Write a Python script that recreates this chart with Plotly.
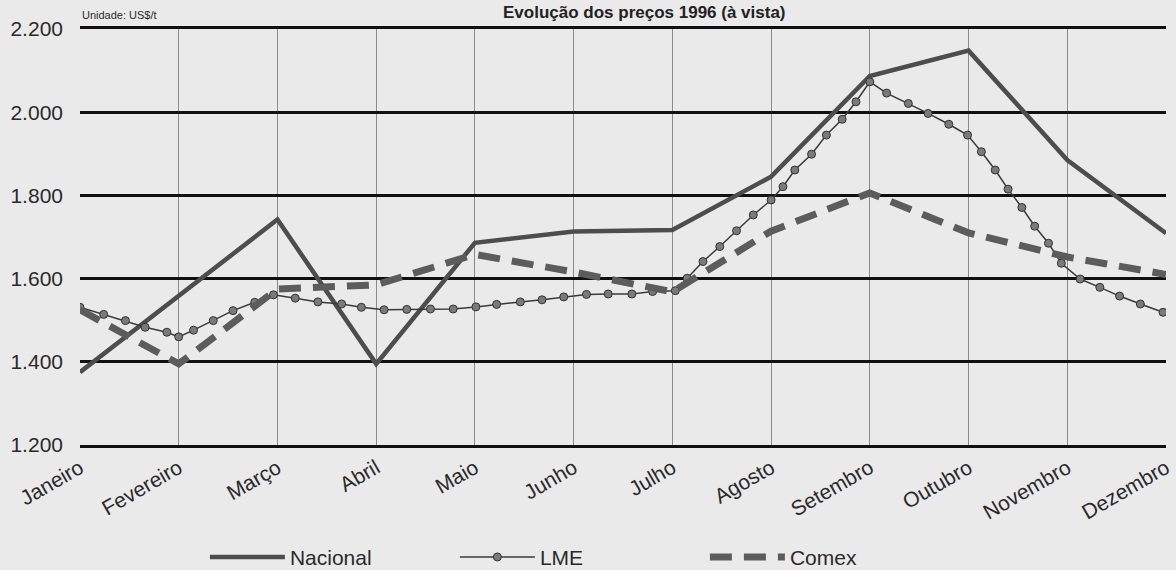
import plotly.graph_objects as go

# ---- data ----
months = ["Janeiro", "Fevereiro", "Março", "Abril", "Maio", "Junho", "Julho",
          "Agosto", "Setembro", "Outubro", "Novembro", "Dezembro"]
month_pos = list(range(12))

nacional = [1375, 1560, 1742, 1395, 1686, 1713, 1717, 1845, 2087, 2148, 1885, 1709]
comex = [1525, 1395, 1575, 1585, 1658, 1616, 1568, 1714, 1806, 1710, 1652, 1610]

# LME: weekly quotes, position expressed in months from January
lme_pos = [0.00, 0.24, 0.46, 0.66, 0.88, 1.00, 1.15, 1.35, 1.55, 1.77, 1.96, 2.18,
           2.41, 2.65, 2.85, 3.08, 3.31, 3.55, 3.78, 4.01, 4.22, 4.46, 4.68, 4.90,
           5.13, 5.35, 5.59, 5.80, 6.03, 6.15, 6.31, 6.48, 6.65, 6.82, 7.00, 7.12,
           7.24, 7.41, 7.56, 7.72, 7.86, 8.00, 8.17, 8.39, 8.59, 8.80, 8.99, 9.13,
           9.27, 9.40, 9.54, 9.67, 9.81, 9.94, 10.13, 10.33, 10.53, 10.74, 10.97]
lme = [1531, 1514, 1499, 1483, 1471, 1460, 1476, 1499, 1523, 1543, 1561, 1553,
       1544, 1539, 1531, 1525, 1526, 1527, 1527, 1532, 1538, 1544, 1549, 1556,
       1562, 1563, 1563, 1569, 1571, 1601, 1641, 1677, 1715, 1753, 1789, 1821,
       1861, 1899, 1945, 1983, 2025, 2073, 2046, 2021, 1997, 1971, 1945, 1905,
       1861, 1815, 1771, 1726, 1685, 1637, 1599, 1579, 1558, 1539, 1519]

y_ticks = [1200, 1400, 1600, 1800, 2000, 2200]
y_tick_text = ["1.200", "1.400", "1.600", "1.800", "2.000", "2.200"]

title_text = "Evolução dos preços 1996 (à vista)"
unit_text = "Unidade: US$/t"

FONT = "Liberation Sans, Arial, sans-serif"
BG = "#eaeaea"
INK = "#2a2a2a"

fig = go.Figure()
fig.add_trace(go.Scatter(
    x=month_pos, y=nacional, name="Nacional", mode="lines",
    line=dict(color="#4d4d4d", width=4.5)))
fig.add_trace(go.Scatter(
    x=lme_pos, y=lme, name="LME", mode="lines+markers",
    line=dict(color="#3a3a3a", width=1.5),
    marker=dict(symbol="circle", size=8, color="#7a7a7a",
                line=dict(color="#333333", width=1))))
fig.add_trace(go.Scatter(
    x=month_pos, y=comex, name="Comex", mode="lines",
    line=dict(color="#5c5c5c", width=7, dash="22px,12px")))

fig.update_layout(
    width=1176, height=570,
    margin=dict(l=80, r=10, t=29, b=125, autoexpand=False),
    paper_bgcolor=BG, plot_bgcolor=BG,
    font=dict(family=FONT, color=INK),
    showlegend=True,
    legend=dict(orientation="h", x=0.115, xanchor="left", y=-0.27, yanchor="middle",
                font=dict(size=21, family=FONT, color=INK),
                itemwidth=75, entrywidth=160, bgcolor="rgba(0,0,0,0)"),
    xaxis=dict(range=[0, 11], tickmode="array", tickvals=month_pos, ticktext=months,
               tickangle=-30, tickfont=dict(size=21, family=FONT, color=INK),
               showgrid=True, gridcolor="#8a8a8a", gridwidth=1,
               showline=True, mirror=True, linecolor="#111111", linewidth=2.5,
               zeroline=False, ticks="", automargin=False),
    yaxis=dict(range=[1200, 2200], tickmode="array", tickvals=y_ticks, ticktext=y_tick_text,
               tickfont=dict(size=21, family=FONT, color=INK),
               showgrid=True, gridcolor="#111111", gridwidth=2.5,
               showline=False, zeroline=False, ticks="", ticklabelstandoff=16,
               automargin=False),
    annotations=[
        dict(text=unit_text, xref="paper", yref="paper", x=0.0, y=1.034,
             xanchor="left", yanchor="middle", showarrow=False,
             font=dict(size=11, family=FONT, color=INK)),
        dict(text="<b>" + title_text + "</b>", xref="paper", yref="paper", x=0.52, y=1.068,
             xanchor="center", yanchor="top", showarrow=False,
             font=dict(size=17, family=FONT, color="#222222")),
    ],
)

# remove the browser's default page margin so the figure sits at the window's corner
fig.write_html("out.html", config={"displayModeBar": False},
               post_script="document.body.style.margin='0';")
